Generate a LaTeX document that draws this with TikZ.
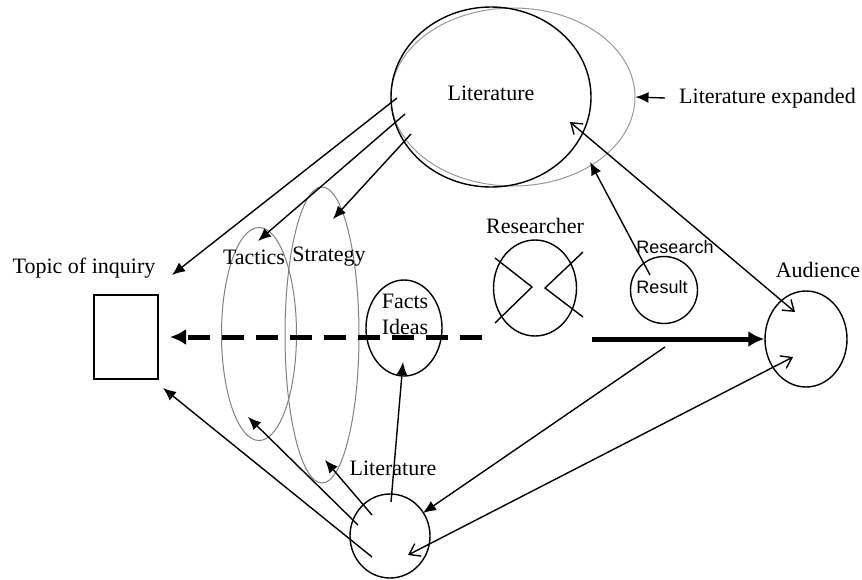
\documentclass[tikz,border=0pt]{standalone}
\usepackage{fontspec}
\setmainfont{Liberation Serif}
\newfontfamily\arialf{Liberation Sans}
\usetikzlibrary{shapes.geometric,arrows.meta}
\begin{document}
\begin{tikzpicture}[x=1pt,y=-1pt,
  ell/.style={draw,ellipse,inner sep=0pt,line width=1.4pt},
  gell/.style={draw=gray,ellipse,inner sep=0pt,line width=1pt},
  lbl/.style={font=\fontsize{22}{25}\selectfont,inner sep=0pt},
  slbl/.style={font=\arialf\fontsize{18}{21}\selectfont,inner sep=0pt},
  con/.style={line width=1.4pt},
  fa/.style={con,-{Latex[length=13pt,width=11pt]}},
  oa/.style={con,{Straight Barb[length=10pt,width=14pt,line width=1.4pt]}-{Straight Barb[length=10pt,width=14pt,line width=1.4pt]}},
  thick arr/.style={line width=5pt,-{Latex[length=16pt,width=16pt]}}
]
\useasboundingbox (0,0) rectangle (862,579);
% big literature ellipses
\node[gell,draw=gray!80,minimum width=244pt,minimum height=178pt] (litexp) at (513,97) {};
\node[ell,minimum width=200pt,minimum height=180pt] (lit) at (491,97) {};
\node[lbl] (littxt) at (491,93) {Literature};
\node[lbl,anchor=west] (exptxt) at (679,98) {Literature expanded};
\draw[fa] (exptxt.west) ++(-14,0) coordinate (expa) -- (litexp.east);
% topic
\node[lbl] (topic) at (84,268) {Topic of inquiry};
\node[draw,line width=1.4pt,minimum width=64pt,minimum height=84pt,inner sep=0pt] (box) at (126,337) {};
% tactics / strategy
\node[gell,minimum width=75pt,minimum height=213pt] (tac) at (259,334) {};
\node[gell,minimum width=74pt,minimum height=296pt] (str) at (322,335) {};
\node[lbl] (tactxt) at (254,257) {Tactics};
\node[lbl] (strtxt) at (329,257) {Strategy};
% facts
\node[ell,minimum width=76pt,minimum height=96pt] (facts) at (404,328) {};
\node[lbl] (factstxt) at (405,301) {Facts};
\node[lbl] (ideastxt) at (405,327) {Ideas};
% researcher
\node[ell,minimum width=83pt,minimum height=96pt] (res) at (535,288) {};
\node[lbl] (restxt) at (535,226) {Researcher};
\draw[con] (495,258) -- (532,287) -- (495,323);
\draw[con] (583,252) -- (545,288) -- (583,317);
% research result
\node[ell,minimum width=67pt,minimum height=67pt] (rr) at (664,290) {};
\node[slbl] (rrtxt1) at (675,247) {Research};
\node[slbl] (rrtxt2) at (662,287) {Result};
% audience
\node[ell,minimum width=82pt,minimum height=96pt] (aud) at (806,339) {};
\node[lbl] (audtxt) at (818,270) {Audience};
% lower literature
\node[ell,minimum width=80pt,minimum height=84pt] (llit) at (390,536) {};
\node[lbl] (llittxt) at (393,468) {Literature};
% coordinates
\coordinate (l1) at (397,98);
\coordinate (l2) at (405,114);
\coordinate (l3) at (411,134);
\coordinate (t1) at (172,275);
\coordinate (t2) at (258,241);
\coordinate (t3) at (333,219);
\coordinate (rrs) at (650,275);
\coordinate (rre) at (590,162);
\coordinate (la) at (570,122);
\coordinate (aa) at (795,312);
\coordinate (ab) at (793,357);
\coordinate (lb) at (408,555);
\coordinate (p1) at (372,557);
\coordinate (p2) at (358,525);
\coordinate (p3) at (372,515);
\coordinate (p4) at (391,502);
\coordinate (q1) at (163,388);
\coordinate (q2) at (248,417);
\coordinate (q3) at (325,460);
\coordinate (q4) at (403,362);
\coordinate (rs) at (665,347);
\coordinate (re) at (423,513);
\coordinate (ds) at (482,337);
\coordinate (de) at (170,337);
\coordinate (ts) at (592,339);
% connectors
\draw[fa] (l1) -- (t1);
\draw[fa] (l2) -- (t2);
\draw[fa] (l3) -- (t3);
\draw[fa] (rrs) -- (rre);
\draw[oa] (la) -- (aa);
\draw[oa] (lb) -- (ab);
\draw[fa] (p1) -- (q1);
\draw[fa] (p2) -- (q2);
\draw[fa] (p3) -- (q3);
\draw[fa] (p4) -- (q4);
\draw[fa] (rs) -- (re);
\draw[line width=5pt,dash pattern=on 22pt off 12pt,-{Latex[length=16pt,width=16pt]}] (ds) -- (de);
\draw[thick arr] (ts) -- (aud.west);
\end{tikzpicture}
\end{document}
